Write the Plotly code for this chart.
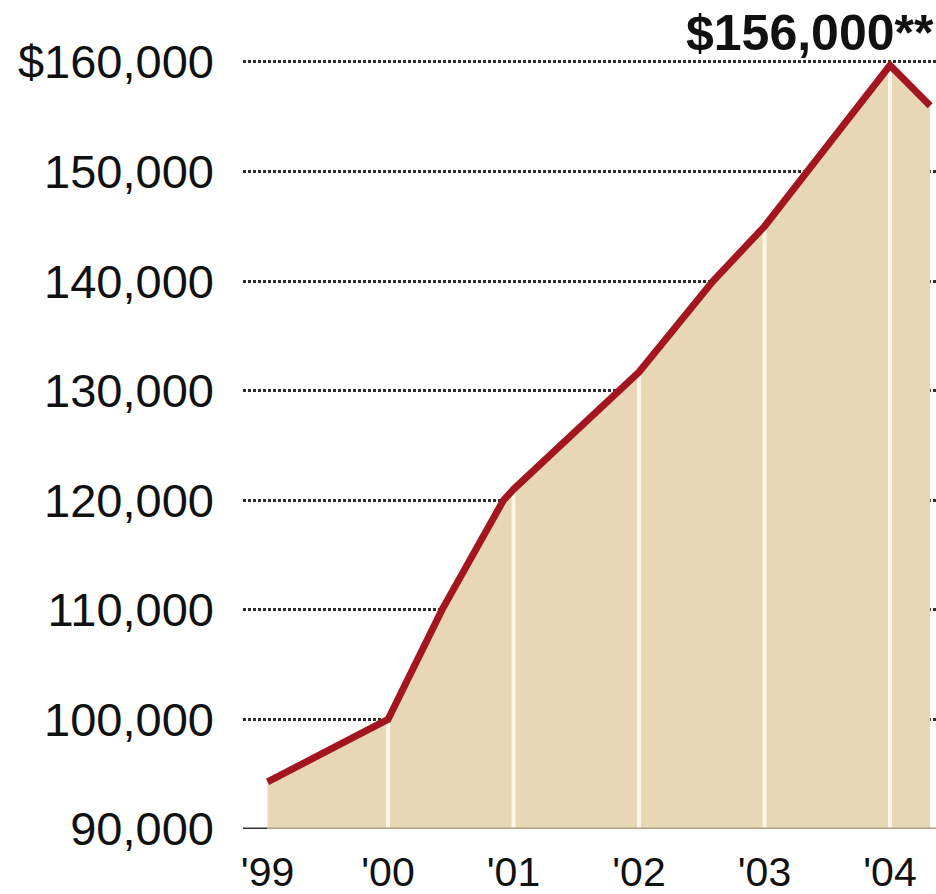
import plotly.graph_objects as go

# ---- data (x in fractional years, y in dollars) ----
years = [1999.04, 2000.0, 2000.43, 2000.92, 2001.0, 2002.0, 2002.59, 2003.0, 2003.34, 2004.0, 2004.32]
prices = [94300, 100000, 110000, 120000, 121000, 131700, 140000, 145000, 150000, 159700, 156000]

divider_years = [2000.0, 2001.0, 2002.0, 2003.0, 2004.0]
tick_years = [1999.04, 2000, 2001, 2002, 2003, 2004]
tick_year_text = ["'99", "'00", "'01", "'02", "'03", "'04"]

y_tickvals = [90000, 100000, 110000, 120000, 130000, 140000, 150000, 160000]
y_ticktext = ["90,000", "100,000", "110,000", "120,000", "130,000", "140,000", "150,000", "$160,000"]

annotation_text = "$156,000**"

FILL = "#e8d7b4"
LINE = "#a3161f"
BASE = 90000

fig = go.Figure()

# tan area
fig.add_trace(go.Scatter(
    x=years, y=prices, mode="lines", line=dict(width=0, color=FILL),
    fill="tozeroy", fillcolor=FILL, hoverinfo="skip", showlegend=False,
))

# white year dividers inside the area
for yr in divider_years:
    i = years.index(yr)
    fig.add_trace(go.Scatter(
        x=[yr, yr], y=[BASE, prices[i]], mode="lines",
        line=dict(color="#fdf6e8", width=4), hoverinfo="skip", showlegend=False,
    ))

# red price line
fig.add_trace(go.Scatter(
    x=years, y=prices, mode="lines",
    line=dict(color=LINE, width=7, shape="linear"),
    hoverinfo="skip", showlegend=False,
))

x_left = 2000 - 145 / 125.5
x_right = 2000 + 548 / 125.5

# baseline: dark left of the area, tan-grey underneath it
fig.add_shape(type="line", x0=x_left, x1=years[0], y0=BASE, y1=BASE,
              line=dict(color="#333333", width=3), layer="above")
fig.add_shape(type="line", x0=years[0], x1=x_right, y0=BASE, y1=BASE,
              line=dict(color="#ada085", width=3), layer="above")

fig.add_annotation(
    text=f"<b>{annotation_text}</b>", xref="paper", x=1.0, xanchor="right",
    yref="y", y=y_tickvals[-1], yanchor="bottom", yshift=-1, showarrow=False,
    font=dict(family="Liberation Sans, Arial, sans-serif", size=50, color="#111111"),
)

fig.update_layout(
    width=936, height=894,
    margin=dict(l=243, r=0, t=10, b=65),
    paper_bgcolor="white", plot_bgcolor="white",
    font=dict(family="Liberation Sans, Arial, sans-serif", color="#111111"),
    xaxis=dict(
        range=[x_left, x_right], tickvals=tick_years, ticktext=tick_year_text,
        showgrid=False, zeroline=False, showline=False, ticks="",
        tickfont=dict(size=41, color="#111111"), ticklabelstandoff=15,
    ),
    yaxis=dict(
        range=[BASE, 160000 + 52 / 0.01096], tickvals=y_tickvals, ticktext=y_ticktext,
        showgrid=True, gridcolor="#2e2e2e", gridwidth=2.5, griddash="3px,2px",
        zeroline=False, showline=False, ticks="",
        tickfont=dict(size=47, color="#111111"), ticklabelstandoff=28,
    ),
)

fig.write_html("out.html")
